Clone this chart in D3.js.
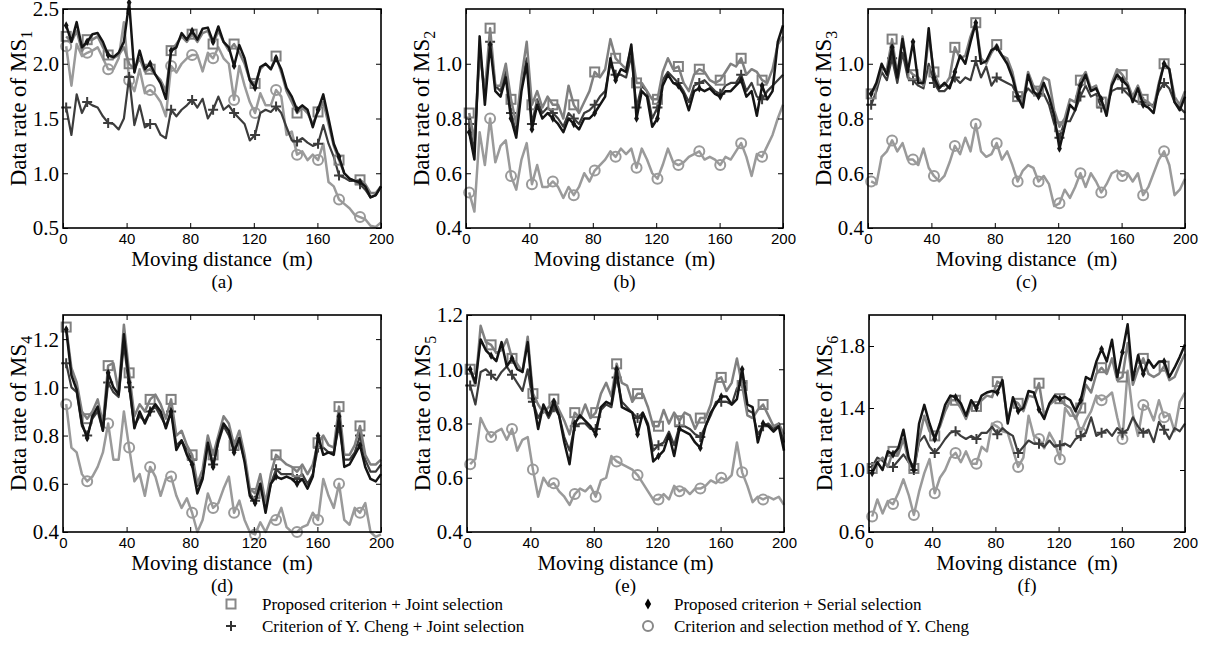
<!DOCTYPE html>
<html><head><meta charset="utf-8">
<script src="https://cdn.jsdelivr.net/npm/d3@7"></script>
<style>body{margin:0;background:#fff}svg{display:block}</style>
</head><body>
<svg id="chart" width="1209" height="671"></svg>
<script>
// ---------- data ----------
const distance = [2,5.3,8.6,11.9,15.2,18.5,21.8,25.1,28.4,31.7,35,38.3,41.6,44.9,48.2,51.5,54.8,58.1,61.4,64.7,68,71.3,74.6,77.9,81.2,84.5,87.8,91.1,94.4,97.7,101,104.3,107.6,110.9,114.2,117.5,120.8,124.1,127.4,130.7,134,137.3,140.6,143.9,147.2,150.5,153.8,157.1,160.4,163.7,167,170.3,173.6,176.9,180.2,183.5,186.8,190.1,193.4,196.7,200];
const xTicks = [0,40,80,120,160,200];
const panelLetters = ["(a)","(b)","(c)","(d)","(e)","(f)"];
const msIndex = ["1","2","3","4","5","6"];
const xLabels = ["Moving distance\u00A0 (m)","Moving distance\u00A0 (m)","Moving distance\u00A0 (m)","Moving distance\u00A0 (m)","Moving distance (m)","Moving distance\u00A0 (m)"];
const yDomains = [[0.5,2.5],[0.4,1.2],[0.4,1.2],[0.4,1.3],[0.4,1.2],[0.6,2.0]];
const yTickValues = [[0.5,1.0,1.5,2.0,2.5],[0.4,0.6,0.8,1.0],[0.4,0.6,0.8,1.0],[0.4,0.6,0.8,1.0,1.2],[0.4,0.6,0.8,1.0,1.2],[0.6,1.0,1.4,1.8]];
const seriesNames = ["Proposed criterion + Joint selection","Proposed criterion + Serial selection","Criterion of Y. Cheng + Joint selection","Criterion and selection method of Y. Cheng"];

// (a) MS1
const a_propJoint = [2.25,2.2,2.3,2.12,2.22,2.22,2.25,2.15,2.08,2.05,2.08,2.15,2.0,1.95,2.05,1.93,1.95,1.9,1.85,1.75,2.12,2.18,2.25,2.2,2.27,2.2,2.28,2.3,2.18,2.3,2.2,2.12,2.18,2.1,2.0,1.85,1.82,1.95,2.0,1.95,2.07,1.92,1.75,1.65,1.55,1.6,1.55,1.45,1.56,1.65,1.45,1.25,1.12,1.0,0.95,0.93,0.94,0.9,0.82,0.82,0.88];
const a_propSerial = [2.35,2.2,2.38,2.15,2.2,2.27,2.28,2.2,2.08,2.06,2.1,2.2,2.56,1.92,2.12,1.95,2.0,1.9,1.82,1.68,2.12,2.15,2.28,2.22,2.3,2.22,2.32,2.33,2.2,2.34,2.2,2.15,1.98,2.17,2.05,1.85,1.78,1.97,2.0,1.95,2.05,1.95,1.78,1.7,1.58,1.62,1.58,1.42,1.58,1.72,1.5,1.27,1.15,1.0,0.95,0.93,0.92,0.88,0.78,0.8,0.88];
const a_chengJoint = [1.6,1.35,1.72,1.55,1.65,1.62,1.6,1.52,1.46,1.45,1.4,1.5,1.88,1.44,1.62,1.42,1.45,1.45,1.35,1.32,1.58,1.52,1.58,1.62,1.67,1.6,1.68,1.5,1.58,1.7,1.58,1.62,1.55,1.5,1.45,1.3,1.35,1.55,1.58,1.56,1.61,1.55,1.42,1.3,1.29,1.32,1.28,1.25,1.27,1.44,1.27,1.15,0.98,0.96,0.93,0.93,0.9,0.85,0.78,0.8,0.88];
const a_cheng = [2.16,1.8,2.18,2.07,2.1,2.12,2.15,2.05,1.95,1.95,2.05,2.38,1.85,1.75,1.95,1.73,1.76,1.72,1.65,1.52,1.98,1.92,2.0,2.05,2.08,2.08,1.93,2.1,2.05,2.15,2.05,2.0,1.67,1.98,1.8,1.65,1.55,1.73,1.62,1.62,1.76,1.7,1.35,1.38,1.17,1.2,1.12,1.17,1.12,1.27,0.92,0.88,0.76,0.72,0.68,0.62,0.6,0.58,0.52,0.51,0.55];

// (b) MS2
const b_propJoint = [0.82,0.72,1.05,0.9,1.13,0.92,0.92,1.0,0.87,0.78,0.95,1.08,0.85,0.9,0.84,0.88,0.85,0.85,0.8,0.92,0.85,0.82,0.86,0.9,0.97,0.95,0.98,1.09,1.02,1.0,0.98,1.06,0.93,0.93,0.9,0.87,0.87,0.97,1.02,0.98,0.99,0.93,0.9,0.96,0.98,0.97,0.94,0.93,0.94,0.97,1.0,0.99,1.02,0.96,0.98,0.97,0.94,0.93,0.98,1.07,1.1];
const b_propSerial = [0.75,0.65,1.1,0.85,1.07,0.9,0.88,0.95,0.8,0.73,0.9,1.0,0.76,0.85,0.8,0.82,0.8,0.78,0.75,0.8,0.78,0.76,0.8,0.8,0.82,0.85,0.88,1.02,0.94,0.98,0.97,1.07,0.8,0.9,0.88,0.77,0.8,0.92,0.96,0.93,0.92,0.89,0.83,0.9,0.91,0.9,0.91,0.89,0.88,0.9,0.9,0.92,0.94,0.88,0.9,0.81,0.92,0.87,0.9,1.08,1.14];
const b_chengJoint = [0.78,0.68,1.05,0.88,1.08,0.92,0.9,0.97,0.82,0.75,0.92,1.02,0.78,0.87,0.82,0.84,0.82,0.8,0.77,0.82,0.8,0.78,0.82,0.83,0.85,0.88,0.9,1.0,0.96,0.96,0.95,1.03,0.84,0.92,0.9,0.8,0.84,0.94,0.97,0.95,0.93,0.9,0.86,0.92,0.93,0.94,0.92,0.9,0.89,0.92,0.93,0.93,0.96,0.9,0.93,0.88,0.87,0.9,0.92,0.94,0.96];
const b_cheng = [0.53,0.46,0.75,0.63,0.8,0.64,0.7,0.72,0.59,0.54,0.65,0.71,0.56,0.63,0.55,0.55,0.57,0.55,0.51,0.55,0.52,0.55,0.6,0.57,0.61,0.63,0.65,0.68,0.66,0.69,0.67,0.69,0.62,0.69,0.65,0.6,0.58,0.63,0.69,0.64,0.63,0.64,0.66,0.67,0.68,0.65,0.66,0.65,0.63,0.66,0.65,0.68,0.71,0.66,0.59,0.67,0.66,0.7,0.74,0.8,0.85];

// (c) MS3
const c_propJoint = [0.89,0.92,0.98,0.98,1.09,0.96,1.1,0.98,0.96,0.95,0.92,1.1,0.97,0.92,0.92,0.95,1.06,1.02,1.03,1.1,1.15,1.02,1.0,1.04,1.07,1.03,1.02,0.97,0.88,0.86,0.97,0.92,0.9,0.95,0.94,0.83,0.77,0.8,0.87,0.86,0.94,0.97,0.91,0.92,0.86,0.83,0.93,0.98,0.96,0.93,0.88,0.92,0.87,0.86,0.84,0.93,1.0,0.98,0.88,0.85,0.9];
const c_propSerial = [0.89,0.93,1.0,0.96,1.06,0.95,1.09,0.97,1.08,0.93,0.93,1.13,0.95,0.91,0.93,0.91,0.97,1.03,1.0,1.08,1.15,1.0,1.01,1.05,1.06,1.03,1.0,0.95,0.88,0.84,0.96,0.9,0.88,0.93,0.88,0.81,0.69,0.77,0.85,0.83,0.92,0.96,0.9,0.91,0.87,0.81,0.92,0.96,0.94,0.92,0.86,0.91,0.85,0.84,0.82,0.92,1.0,0.98,0.86,0.83,0.88];
const c_chengJoint = [0.85,0.9,0.97,0.94,1.02,0.93,1.04,0.95,0.94,0.92,0.91,1.0,0.93,0.9,0.9,0.92,0.95,0.93,0.95,0.94,1.01,0.95,0.99,0.92,0.95,0.94,0.93,0.92,0.88,0.88,0.91,0.89,0.89,0.89,0.85,0.78,0.73,0.79,0.79,0.83,0.88,0.92,0.88,0.89,0.84,0.85,0.9,0.91,0.91,0.89,0.87,0.86,0.86,0.85,0.85,0.9,0.93,0.91,0.86,0.84,0.82];
const c_cheng = [0.57,0.56,0.66,0.68,0.72,0.68,0.71,0.65,0.65,0.63,0.69,0.62,0.59,0.57,0.59,0.64,0.7,0.67,0.73,0.68,0.78,0.68,0.66,0.67,0.71,0.65,0.68,0.63,0.57,0.61,0.63,0.62,0.57,0.59,0.56,0.48,0.49,0.54,0.51,0.55,0.6,0.55,0.6,0.57,0.53,0.56,0.6,0.61,0.59,0.6,0.57,0.6,0.52,0.55,0.6,0.65,0.68,0.63,0.52,0.54,0.58];

// (d) MS4
const d_propJoint = [1.25,1.08,1.02,0.9,0.87,0.9,0.95,0.85,1.09,1.1,0.98,1.26,1.06,0.88,0.93,0.9,0.95,0.97,0.93,0.87,0.95,0.8,0.82,0.76,0.72,0.6,0.66,0.8,0.72,0.8,0.88,0.85,0.76,0.82,0.72,0.58,0.56,0.64,0.52,0.64,0.72,0.7,0.68,0.67,0.65,0.68,0.64,0.68,0.77,0.8,0.76,0.75,0.92,0.72,0.72,0.76,0.84,0.72,0.68,0.68,0.7];
const d_propSerial = [1.24,1.05,0.99,0.85,0.79,0.88,0.92,0.82,1.06,1.0,0.97,1.22,1.02,0.83,0.9,0.85,0.9,0.93,0.9,0.83,0.9,0.74,0.78,0.72,0.68,0.56,0.62,0.77,0.67,0.78,0.85,0.82,0.73,0.79,0.69,0.55,0.52,0.6,0.48,0.6,0.63,0.62,0.63,0.62,0.6,0.62,0.58,0.63,0.8,0.72,0.73,0.72,0.88,0.67,0.68,0.72,0.76,0.67,0.62,0.61,0.64];
const d_chengJoint = [1.1,1.0,0.98,0.84,0.8,0.87,0.9,0.82,1.02,0.98,0.96,1.18,1.0,0.84,0.88,0.86,0.9,0.92,0.88,0.84,0.9,0.76,0.78,0.74,0.7,0.59,0.63,0.77,0.68,0.77,0.84,0.8,0.74,0.78,0.7,0.56,0.53,0.6,0.5,0.6,0.66,0.64,0.64,0.64,0.62,0.64,0.6,0.64,0.75,0.75,0.73,0.73,0.84,0.7,0.7,0.73,0.8,0.7,0.65,0.65,0.68];
const d_cheng = [0.93,0.75,0.73,0.64,0.61,0.63,0.67,0.73,0.85,0.7,0.7,0.9,0.75,0.61,0.64,0.55,0.67,0.63,0.55,0.62,0.63,0.55,0.5,0.54,0.48,0.4,0.45,0.56,0.5,0.52,0.58,0.63,0.48,0.53,0.45,0.4,0.39,0.44,0.4,0.45,0.45,0.5,0.42,0.4,0.4,0.42,0.43,0.48,0.45,0.62,0.55,0.5,0.6,0.45,0.43,0.5,0.48,0.52,0.4,0.38,0.39];

// (e) MS5
const e_propJoint = [1.0,0.94,1.16,1.1,1.09,1.06,1.07,1.11,1.04,1.02,0.99,1.12,0.91,0.87,0.84,0.86,0.89,0.85,0.81,0.76,0.84,0.82,0.87,0.82,0.84,0.91,0.95,0.9,1.02,0.95,0.94,0.88,0.91,0.91,0.86,0.79,0.79,0.85,0.8,0.84,0.81,0.84,0.83,0.78,0.82,0.82,0.87,0.96,0.97,0.92,0.95,1.04,0.94,0.83,0.82,0.85,0.87,0.83,0.79,0.8,0.76];
const e_propSerial = [1.0,0.95,1.11,1.07,1.05,1.03,1.1,1.01,1.04,1.0,0.99,1.1,0.89,0.78,0.87,0.83,0.88,0.83,0.73,0.65,0.8,0.83,0.81,0.79,0.76,0.86,0.88,0.87,1.0,0.86,0.85,0.84,0.76,0.84,0.79,0.66,0.68,0.7,0.76,0.68,0.78,0.77,0.76,0.73,0.71,0.79,0.84,0.87,0.9,0.9,0.87,0.89,1.0,0.87,0.86,0.73,0.8,0.79,0.77,0.79,0.7];
const e_chengJoint = [0.94,0.87,0.99,1.0,0.98,0.96,0.99,1.01,0.98,0.95,0.92,1.0,0.88,0.82,0.86,0.82,0.86,0.83,0.75,0.7,0.79,0.8,0.8,0.78,0.78,0.85,0.87,0.86,0.97,0.88,0.86,0.84,0.82,0.84,0.8,0.7,0.72,0.73,0.77,0.72,0.79,0.79,0.78,0.76,0.75,0.79,0.83,0.88,0.88,0.88,0.87,0.93,0.95,0.85,0.84,0.76,0.79,0.8,0.78,0.8,0.73];
const e_cheng = [0.65,0.67,0.82,0.78,0.75,0.77,0.78,0.74,0.78,0.7,0.74,0.75,0.63,0.53,0.6,0.57,0.58,0.55,0.53,0.5,0.54,0.56,0.55,0.57,0.53,0.59,0.6,0.68,0.66,0.65,0.64,0.63,0.61,0.58,0.55,0.52,0.52,0.54,0.52,0.57,0.55,0.56,0.54,0.56,0.56,0.57,0.59,0.58,0.6,0.59,0.61,0.73,0.62,0.57,0.51,0.53,0.52,0.53,0.52,0.53,0.5];

// (f) MS6
const f_propJoint = [1.01,1.05,1.08,1.02,1.12,1.1,1.2,1.05,1.01,1.2,1.35,1.25,1.22,1.28,1.38,1.45,1.45,1.4,1.33,1.42,1.41,1.45,1.48,1.47,1.57,1.55,1.32,1.45,1.43,1.38,1.48,1.47,1.56,1.35,1.42,1.45,1.46,1.42,1.4,1.33,1.4,1.55,1.5,1.62,1.66,1.62,1.72,1.58,1.6,1.82,1.55,1.65,1.72,1.62,1.6,1.62,1.67,1.58,1.6,1.68,1.75];
const f_propSerial = [0.98,1.05,1.0,1.12,1.1,1.14,1.26,1.08,1.0,1.3,1.42,1.3,1.2,1.3,1.42,1.48,1.47,1.43,1.35,1.45,1.4,1.48,1.5,1.51,1.5,1.58,1.3,1.47,1.38,1.4,1.51,1.5,1.39,1.33,1.43,1.48,1.46,1.47,1.45,1.38,1.45,1.6,1.58,1.7,1.78,1.7,1.84,1.6,1.76,1.94,1.58,1.74,1.62,1.71,1.66,1.7,1.7,1.6,1.66,1.73,1.81];
const f_chengJoint = [1.02,1.08,1.06,1.02,1.02,1.06,1.1,1.05,1.0,1.18,1.22,1.15,1.11,1.15,1.2,1.24,1.25,1.22,1.2,1.22,1.2,1.24,1.24,1.28,1.23,1.27,1.24,1.22,1.11,1.15,1.19,1.17,1.17,1.15,1.19,1.15,1.16,1.17,1.15,1.2,1.22,1.24,1.34,1.22,1.24,1.26,1.22,1.27,1.24,1.26,1.34,1.28,1.24,1.26,1.18,1.31,1.26,1.2,1.27,1.25,1.3];
const f_cheng = [0.7,0.81,0.72,0.8,0.78,0.85,0.94,0.84,0.71,0.86,0.98,1.07,0.85,0.95,1.0,1.08,1.11,1.05,1.12,1.04,1.04,1.15,1.12,1.3,1.28,1.25,1.24,1.13,1.02,1.08,1.35,1.22,1.2,1.14,1.24,1.18,1.07,1.4,1.35,1.35,1.24,1.32,1.38,1.48,1.45,1.47,1.5,1.34,1.2,1.64,1.36,1.22,1.42,1.4,1.32,1.45,1.34,1.36,1.25,1.44,1.5];

const panelData = [
  [a_propJoint,a_propSerial,a_chengJoint,a_cheng],
  [b_propJoint,b_propSerial,b_chengJoint,b_cheng],
  [c_propJoint,c_propSerial,c_chengJoint,c_cheng],
  [d_propJoint,d_propSerial,d_chengJoint,d_cheng],
  [e_propJoint,e_propSerial,e_chengJoint,e_cheng],
  [f_propJoint,f_propSerial,f_chengJoint,f_cheng]
];

// ---------- layout & styles ----------
const SERIF = "'Liberation Serif','Times New Roman',Times,serif";
const SANS = "'Liberation Sans',Arial,Helvetica,sans-serif";
const boxes = [
  {L:63,T:9,R:381,B:228},{L:466,T:9,R:783,B:228},{L:868,T:9,R:1185,B:228},
  {L:63,T:315,R:381,B:532},{L:467,T:315,R:784,B:532},{L:869,T:315,R:1185,B:532}
];
const styles = [
  {color:"#808080", width:2.5, marker:"square"},
  {color:"#141414", width:2.5, marker:"diamond"},
  {color:"#3c3c3c", width:2.2, marker:"plus"},
  {color:"#9a9a9a", width:2.5, marker:"circle"}
];
const drawOrder = [3,2,0,1];

function marker(sel, type, cx, cy, color, size){
  if(type==="square"){
    sel.append("rect").attr("x",cx-4.5).attr("y",cy-4.5).attr("width",9).attr("height",9)
      .attr("fill","none").attr("stroke",color).attr("stroke-width",2);
  } else if(type==="circle"){
    sel.append("circle").attr("cx",cx).attr("cy",cy).attr("r",5)
      .attr("fill","none").attr("stroke",color).attr("stroke-width",2);
  } else if(type==="plus"){
    sel.append("path").attr("d",`M${cx-5},${cy}H${cx+5}M${cx},${cy-5}V${cy+5}`)
      .attr("stroke",color).attr("stroke-width",2).attr("fill","none");
  } else {
    sel.append("path").attr("d",d3.symbol(d3.symbolDiamond,size||20)()).attr("transform",`translate(${cx},${cy})`)
      .attr("fill",color);
  }
}

const svg = d3.select("#chart");

boxes.forEach((p,k)=>{
  const g = svg.append("g");
  const x = d3.scaleLinear().domain([0,200]).range([p.L,p.R]);
  const y = d3.scaleLinear().domain(yDomains[k]).range([p.B,p.T]);

  const line = d3.line().x((d,i)=>x(distance[i])).y(d=>y(d));
  drawOrder.forEach(s=>{
    const st = styles[s], vals = panelData[k][s];
    g.append("path").datum(vals).attr("d",line).attr("fill","none")
      .attr("stroke",st.color).attr("stroke-width",st.width).attr("stroke-linejoin","round");
    const mg = g.append("g");
    vals.forEach((v,i)=>{ if(i%4===0 && i<vals.length-1) marker(mg, st.marker, x(distance[i]), y(v), st.color, 20); });
  });

  const yt = yTickValues[k];
  const gb = g.append("g").attr("transform",`translate(0,${p.B})`)
    .call(d3.axisBottom(x).tickValues(xTicks).tickSize(-5).tickFormat(d3.format("d")));
  gb.select(".domain").remove();
  gb.selectAll("line").attr("stroke","#000").attr("stroke-width",1);
  gb.selectAll("text").attr("y",16).attr("dy",0).attr("fill","#000")
    .attr("font-family",SANS).attr("font-size",15);
  const gt = g.append("g").attr("transform",`translate(0,${p.T})`)
    .call(d3.axisTop(x).tickValues(xTicks).tickSize(-5).tickFormat(""));
  gt.select(".domain").remove(); gt.selectAll("line").attr("stroke","#000");
  const gl = g.append("g").attr("transform",`translate(${p.L},0)`)
    .call(d3.axisLeft(y).tickValues(yt).tickSize(-5).tickFormat(d3.format(".1f")));
  gl.select(".domain").remove();
  gl.selectAll("line").attr("stroke","#000");
  gl.selectAll("text").attr("x",-4).attr("dy","0.33em").attr("fill","#000")
    .attr("font-family",SERIF).attr("font-size",21);
  const gr = g.append("g").attr("transform",`translate(${p.R},0)`)
    .call(d3.axisRight(y).tickValues(yt).tickSize(-5).tickFormat(""));
  gr.select(".domain").remove(); gr.selectAll("line").attr("stroke","#000");

  g.append("rect").attr("x",p.L).attr("y",p.T).attr("width",p.R-p.L).attr("height",p.B-p.T)
    .attr("fill","none").attr("stroke","#000").attr("stroke-width",1.6);

  const cx = (p.L+p.R)/2;
  g.append("text").attr("x",cx).attr("y",p.B+38).attr("text-anchor","middle")
    .attr("font-family",SERIF).attr("font-size",21).style("white-space","pre").text(xLabels[k]);
  g.append("text").attr("x",cx).attr("y",p.B+60).attr("text-anchor","middle")
    .attr("font-family",SERIF).attr("font-size",19).text(panelLetters[k]);
  const yl = g.append("text").attr("transform",`translate(${p.L-37},${(p.T+p.B)/2-10}) rotate(-90)`)
    .attr("text-anchor","middle").attr("font-family",SERIF).attr("font-size",23);
  yl.append("tspan").text("Data rate of MS");
  yl.append("tspan").attr("font-size",16).attr("dy",6).text(msIndex[k]);
});

// legend
const legendPos = [
  {mx:231, tx:262, y:604}, {mx:648, tx:674, y:604},
  {mx:231, tx:262, y:626}, {mx:648, tx:674, y:626}
];
const lg = svg.append("g");
legendPos.forEach((lp,s)=>{
  const st = styles[s];
  marker(lg, st.marker, lp.mx, lp.y, st.marker==="diamond" ? "#000" : (st.marker==="plus" ? "#333" : "#888"), 34);
  lg.append("text").attr("x",lp.tx).attr("y",lp.y+6).attr("font-family",SERIF).attr("font-size",17)
    .text(seriesNames[s]);
});
</script>
</body></html>
